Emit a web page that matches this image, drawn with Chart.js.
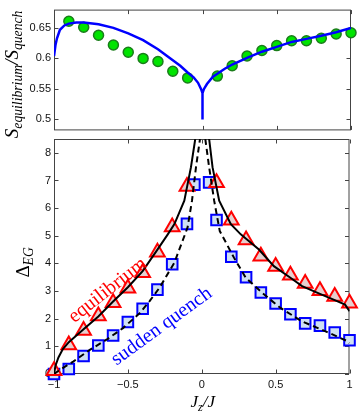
<!DOCTYPE html>
<html>
<head>
<meta charset="utf-8">
<script src="https://cdn.jsdelivr.net/npm/chart.js@4.4.1/dist/chart.umd.min.js"></script>
<style>
  body{ margin:0; background:#fff; }
  #wrap{ position:relative; width:360px; height:415px; overflow:hidden; }
  canvas{ position:absolute; left:0; top:0; }
  .lbl{ position:absolute; white-space:nowrap; font-family:"Liberation Serif","DejaVu Serif",serif; transform-origin:center center; line-height:1; }
  .lbl sub{ font-size:0.72em; vertical-align:-0.3em; }
</style>
</head>
<body>
<div id="wrap">
  <canvas id="bot" width="360" height="415"></canvas>
  <canvas id="top" width="360" height="140"></canvas>
  <div class="lbl" id="ytop" style="font-size:19px;"><i>S</i><sub><i>equilibrium</i></sub><i>/S</i><sub><i>quench</i></sub></div>
  <div class="lbl" id="ybot" style="font-size:19px;">&Delta;<sub><i>EG</i></sub></div>
  <div class="lbl" id="xbot" style="font-size:17px;"><i>J</i><sub><i>z</i></sub><i>/J</i></div>
  <div class="lbl" id="eqlbl" style="font-size:20px;color:#ff0000;">equilibrium</div>
  <div class="lbl" id="sqlbl" style="font-size:20px;color:#0000ff;">sudden quench</div>
</div>
<script>
// ---- top panel data
const topDotsX = [-0.9,-0.8,-0.7,-0.6,-0.5,-0.4,-0.3,-0.2,-0.1, 0.1,0.2,0.3,0.4,0.5,0.6,0.7,0.8,0.9,1.0]
const topDotsY = [0.661,0.651,0.638,0.622,0.610,0.600,0.595,0.579,0.568, 0.571,0.588,0.604,0.613,0.621,0.629,0.629,0.633,0.640,0.642]
const topCurveX = [-1,-0.99,-0.98,-0.96,-0.93,-0.9,-0.85,-0.8,-0.7,-0.6,-0.5,-0.4,-0.3,-0.2,-0.15,-0.1,-0.06,-0.03,-0.01,0,0,0,0.01,0.03,0.07,0.1,0.15,0.2,0.3,0.4,0.5,0.6,0.7,0.8,0.9,1.0]
const topCurveY = [0.604,0.622,0.633,0.647,0.654,0.657,0.659,0.659,0.656,0.650,0.641,0.630,0.615,0.597,0.588,0.577,0.569,0.560,0.550,0.543,0.500,0.543,0.550,0.558,0.570,0.575,0.583,0.590,0.601,0.611,0.619,0.627,0.632,0.637,0.643,0.650]
const topYTicks = [0.5,0.55,0.6,0.65]
const topYLabels = ['0.5','0.55','0.6','0.65']

// ---- bottom panel data
const eqX = [-1,-0.9,-0.8,-0.7,-0.6,-0.5,-0.4,-0.3,-0.2,-0.1, 0.1,0.2,0.3,0.4,0.5,0.6,0.7,0.8,0.9,1.0]
const eqY = [0.12,1.05,1.57,2.1,2.58,3.1,3.66,4.4,5.32,6.78, 6.92,5.56,4.85,4.26,3.89,3.57,3.27,3.01,2.8,2.56]
const sqX = [-1,-0.9,-0.8,-0.7,-0.6,-0.5,-0.4,-0.3,-0.2,-0.1,-0.05, 0.05,0.1,0.2,0.3,0.4,0.5,0.6,0.7,0.8,0.9,1.0]
const sqY = [0.0,0.18,0.65,1.03,1.39,1.88,2.36,3.05,3.97,5.43,6.85, 6.93,5.57,4.24,3.5,2.95,2.55,2.16,1.83,1.75,1.5,1.22]
const eqLeftX = [-1,-0.99,-0.97,-0.94,-0.9,-0.8,-0.7,-0.6,-0.5,-0.4,-0.3,-0.23,-0.185,-0.118,-0.073,-0.044]
const eqLeftY = [0,0.3,0.6,0.9,1.15,1.62,2.08,2.62,3.14,3.72,4.5,5.05,5.42,6.27,7.48,8.5]
const eqRightX = [0.05,0.073,0.118,0.197,0.264,0.3,0.387,0.488,0.6,0.679,0.8,0.9,0.97,0.993,1.0]
const eqRightY = [8.5,7.48,6.27,5.42,5.05,4.89,4.5,3.9,3.48,3.18,2.9,2.67,2.51,2.33,2.27]
const sqLeftX = [-1,-0.96,-0.87,-0.758,-0.645,-0.533,-0.42,-0.354,-0.286,-0.185,-0.096,-0.066,-0.039,-0.012]
const sqLeftY = [0.0,0.15,0.45,0.87,1.24,1.66,2.2,2.63,3.12,4.03,5.3,6.27,7.48,8.5]
const sqRightX = [0.024,0.05,0.084,0.122,0.219,0.298,0.41,0.533,0.679,0.814,0.993,1.0]
const sqRightY = [8.5,7.48,6.27,5.17,4.2,3.48,2.93,2.39,1.9,1.6,1.17,1.12]
const botYTicks = [0,1,2,3,4,5,6,7,8]
const xTicks = [-1,-0.5,0,0.5,1]
const xLabels = ['\u22121','\u22120.5','0','0.5','1']

const pts = (xs, ys) => xs.map((x,i)=>({x, y:ys[i]}))
const tickFont = { family:'"Liberation Sans", Arial, sans-serif', size:11 }

// box with inward ticks, MATLAB style
const frame = {
  id:'frame',
  beforeDatasetsDraw(chart, args, opts){
    const {ctx, chartArea:a, scales} = chart
    const L = a.left+0.5, R = a.right-0.5, T = a.top+0.5, B = a.bottom-0.5
    ctx.save()
    ctx.strokeStyle = '#444'
    ctx.lineWidth = 1
    ctx.strokeRect(L, T, R-L, B-T)
    ctx.beginPath()
    for(const v of opts.xt){
      const p = Math.round(scales.x.getPixelForValue(v))+0.5
      ctx.moveTo(p, T); ctx.lineTo(p, T+4)
      ctx.moveTo(p, B); ctx.lineTo(p, B-4)
    }
    for(const v of opts.yt){
      const p = Math.round(scales.y.getPixelForValue(v))+0.5
      ctx.moveTo(L, p); ctx.lineTo(L+4, p)
      ctx.moveTo(R, p); ctx.lineTo(R-4, p)
    }
    ctx.stroke()
    ctx.restore()
  }
}

Chart.defaults.font.family = tickFont.family
Chart.defaults.color = '#111'

new Chart(document.getElementById('top'), {
  type:'scatter',
  data:{ datasets:[
    { data:pts(topCurveX, topCurveY), showLine:true, borderColor:'#0000ff', borderWidth:2.5, pointRadius:0, tension:0 },
    { data:pts(topDotsX, topDotsY), pointStyle:'circle', pointRadius:5, pointBackgroundColor:'#00e400', pointBorderColor:'#1a7d1a', pointBorderWidth:1.5, clip:false }
  ]},
  options:{
    responsive:false, animation:false, devicePixelRatio:1,
    layout:{ padding:{ top:8, right:9, bottom:1, left:0 } },
    plugins:{ legend:{display:false}, tooltip:{enabled:false}, frame:{ xt:xTicks, yt:topYTicks } },
    scales:{
      x:{ type:'linear', min:-1, max:1, display:false },
      y:{ type:'linear', min:0.482, max:0.68,
          afterBuildTicks: s => { s.ticks = topYTicks.map(v=>({value:v})) },
          afterFit: s => { s.width = 54 },
          grid:{ display:false, drawTicks:false }, border:{ display:false },
          ticks:{ font:tickFont, padding:3, callback:(v)=> topYLabels[topYTicks.indexOf(v)] } }
    }
  },
  plugins:[frame]
})

new Chart(document.getElementById('bot'), {
  type:'scatter',
  data:{ datasets:[
    { data:pts(eqLeftX, eqLeftY), showLine:true, borderColor:'#000', borderWidth:2, pointRadius:0 },
    { data:pts(eqRightX, eqRightY), showLine:true, borderColor:'#000', borderWidth:2, pointRadius:0 },
    { data:pts(sqLeftX, sqLeftY), showLine:true, borderColor:'#000', borderWidth:2, borderDash:[6,4], pointRadius:0 },
    { data:pts(sqRightX, sqRightY), showLine:true, borderColor:'#000', borderWidth:2, borderDash:[6,4], pointRadius:0 },
    { data:pts(eqX, eqY), pointStyle:'triangle', pointRadius:8.5, pointBackgroundColor:'#e6cfcf', pointBorderColor:'#ff0000', pointBorderWidth:2, clip:false },
    { data:pts(sqX, sqY), pointStyle:'rect', pointRadius:7.5, pointBackgroundColor:'#cfe0f3', pointBorderColor:'#0000ff', pointBorderWidth:2, clip:false }
  ]},
  options:{
    responsive:false, animation:false, devicePixelRatio:1,
    layout:{ padding:{ top:139, right:9, bottom:0, left:0 } },
    plugins:{ legend:{display:false}, tooltip:{enabled:false}, frame:{ xt:xTicks, yt:botYTicks } },
    scales:{
      x:{ type:'linear', min:-1, max:1,
          afterBuildTicks: s => { s.ticks = xTicks.map(v=>({value:v})) },
          afterFit: s => { s.height = 41 },
          grid:{ display:false, drawTicks:false }, border:{ display:false },
          ticks:{ font:tickFont, padding:4, maxRotation:0, callback:(v)=> xLabels[xTicks.indexOf(v)] } },
      y:{ type:'linear', min:0, max:8.5,
          afterBuildTicks: s => { s.ticks = botYTicks.map(v=>({value:v})) },
          afterFit: s => { s.width = 54 },
          grid:{ display:false, drawTicks:false }, border:{ display:false },
          ticks:{ font:tickFont, padding:3, callback:(v)=> String(v) } }
    }
  },
  plugins:[frame]
})

// place rotated / math labels around their centres
function place(id, cx, cy, deg){
  const el = document.getElementById(id)
  const w = el.offsetWidth, h = el.offsetHeight
  el.style.left = (cx - w/2) + 'px'
  el.style.top = (cy - h/2) + 'px'
  el.style.transform = `rotate(${deg}deg)`
}
place('ytop', 14, 74, -90)
place('ybot', 24, 262, -90)
place('xbot', 203, 403, 0)
place('eqlbl', 106, 289, -38)
place('sqlbl', 160, 325, -36)
</script>
</body>
</html>
